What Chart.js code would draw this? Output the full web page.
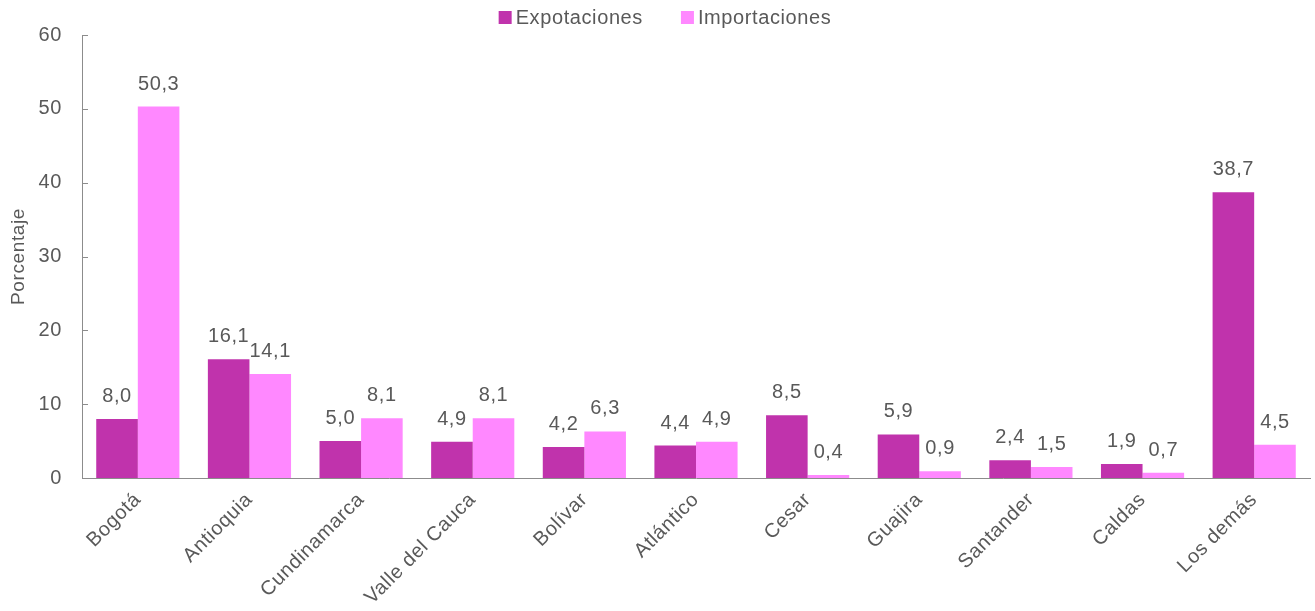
<!DOCTYPE html>
<html>
<head>
<meta charset="utf-8">
<script src="https://cdn.jsdelivr.net/npm/chart.js@4"></script>
<style>
    html, body { margin: 0; padding: 0; background: #fff; }
    #wrap { width: 1315px; height: 611px; position: relative; }
</style>
</head>
<body>
<div id="wrap"><canvas id="chart"></canvas></div>
<script>
    // Data
    const categories = ['Bogotá', 'Antioquia', 'Cundinamarca', 'Valle del Cauca', 'Bolívar',
        'Atlántico', 'Cesar', 'Guajira', 'Santander', 'Caldas', 'Los demás'];
    const exportaciones = [8.0, 16.1, 5.0, 4.9, 4.2, 4.4, 8.5, 5.9, 2.4, 1.9, 38.7];
    const importaciones = [50.3, 14.1, 8.1, 8.1, 6.3, 4.9, 0.4, 0.9, 1.5, 0.7, 4.5];
    const seriesNames = ['Expotaciones', 'Importaciones'];
    const seriesColors = ['#c033ac', '#ff88ff'];
    const yTicks = [0, 10, 20, 30, 40, 50, 60];

    const FONT = '"Liberation Sans", Arial, sans-serif';
    const TEXT = '#595959';
    const AXIS = '#8c8c8c';
    const SPACING = '0.6px';

    // Slightly wider text, closer to the original typeface
    const spacing = {
        id: 'spacing',
        beforeLayout(chart) { chart.ctx.letterSpacing = SPACING; },
        beforeDraw(chart) { chart.ctx.letterSpacing = SPACING; }
    };

    // Value labels above each bar, decimal comma
    const barLabels = {
        id: 'barLabels',
        afterDatasetsDraw(chart) {
            const ctx = chart.ctx;
            ctx.save();
            ctx.font = '20px ' + FONT;
            ctx.fillStyle = TEXT;
            ctx.textAlign = 'center';
            ctx.textBaseline = 'alphabetic';
            chart.data.datasets.forEach((ds, i) => {
                chart.getDatasetMeta(i).data.forEach((bar, j) => {
                    ctx.fillText(ds.data[j].toFixed(1).replace('.', ','), bar.x, bar.y - 17);
                });
            });
            ctx.restore();
        }
    };

    // Inward tick marks on the y axis + legend drawn by hand
    const extras = {
        id: 'extras',
        afterDraw(chart) {
            const ctx = chart.ctx;
            const y = chart.scales.y;
            ctx.save();
            ctx.strokeStyle = AXIS;
            ctx.lineWidth = 1;
            yTicks.forEach(v => {
                const py = Math.round(y.getPixelForValue(v)) + 0.5;
                ctx.beginPath();
                ctx.moveTo(y.right, py);
                ctx.lineTo(y.right + 6, py);
                ctx.stroke();
            });

            // legend
            ctx.font = '20px ' + FONT;
            ctx.textBaseline = 'middle';
            ctx.textAlign = 'left';
            const box = 13, gap = 4, itemGap = 38;
            const widths = seriesNames.map(n => ctx.measureText(n).width);
            const total = widths.reduce((a, w) => a + box + gap + w, 0) + itemGap;
            let x = 665 - total / 2;
            seriesNames.forEach((n, i) => {
                ctx.fillStyle = seriesColors[i];
                ctx.fillRect(x, 11, box, box);
                ctx.fillStyle = TEXT;
                ctx.fillText(n, x + box + gap, 18);
                x += box + gap + widths[i] + itemGap;
            });
            ctx.restore();
        }
    };

    new Chart(document.getElementById('chart'), {
        type: 'bar',
        data: {
            labels: categories,
            datasets: [{
                label: seriesNames[0],
                data: exportaciones,
                backgroundColor: seriesColors[0],
                borderWidth: 0,
                categoryPercentage: 0.745,
                barPercentage: 1
            }, {
                label: seriesNames[1],
                data: importaciones,
                backgroundColor: seriesColors[1],
                borderWidth: 0,
                categoryPercentage: 0.745,
                barPercentage: 1
            }]
        },
        options: {
            responsive: true,
            maintainAspectRatio: false,
            animation: false,
            layout: { padding: { top: 35, right: 5, left: 7, bottom: 0 } },
            plugins: {
                legend: { display: false },
                tooltip: { enabled: false }
            },
            scales: {
                x: {
                    grid: { display: false, drawTicks: false },
                    border: { color: AXIS, width: 1 },
                    ticks: {
                        font: { family: FONT, size: 20 },
                        color: TEXT,
                        maxRotation: 45,
                        minRotation: 45,
                        padding: 10
                    },
                    afterFit(scale) { scale.height = 133; }
                },
                y: {
                    min: 0,
                    max: 60,
                    grid: { display: false, drawTicks: false },
                    border: { color: AXIS, width: 1 },
                    ticks: {
                        stepSize: 10,
                        font: { family: FONT, size: 20 },
                        color: TEXT,
                        padding: 20
                    },
                    title: {
                        display: true,
                        text: 'Porcentaje',
                        font: { family: FONT, size: 19 },
                        color: TEXT,
                        padding: 0
                    },
                    afterFit(scale) { scale.width = 75; }
                }
            }
        },
        plugins: [spacing, barLabels, extras]
    });
</script>
</body>
</html>
